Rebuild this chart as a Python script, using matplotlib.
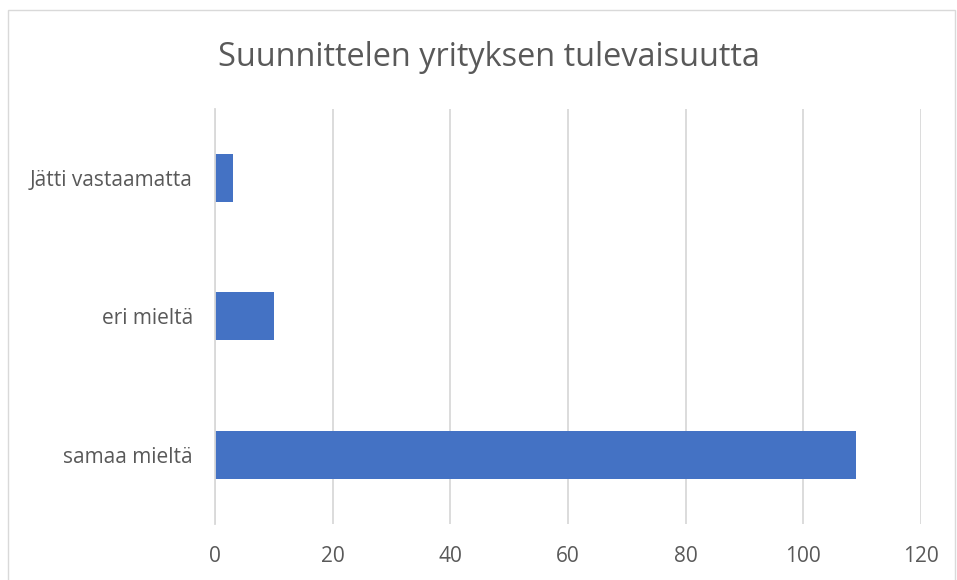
import matplotlib.pyplot as plt
from matplotlib.patches import Rectangle

# Data
categories = ['samaa mieltä', 'eri mieltä', 'Jätti vastaamatta']
values = [109, 10, 3]
ticks = [0, 20, 40, 60, 80, 100, 120]

plt.rcParams['font.family'] = ['Open Sans', 'DejaVu Sans']

fig = plt.figure(figsize=(9.57, 5.80), dpi=100)
ax = fig.add_axes([215 / 957, 1 - 524 / 580, (921 - 215) / 957, (524 - 108.5) / 580])

# рамка вокруг диаграммы
fig.patches.append(Rectangle((8 / 957, -0.1), 947 / 957, 1.1 - 10 / 580,
                             transform=fig.transFigure, fill=False,
                             edgecolor='#d9d9d9', linewidth=1))

ax.barh(range(len(categories)), values, height=0.35, color='#4472c4')
ax.set_xlim(0, 120)
ax.set_ylim(-0.5, len(categories) - 0.5)
ax.set_xticks(ticks)
ax.set_yticks(range(len(categories)))
ax.set_yticklabels(categories)
ax.grid(axis='x', color='#d9d9d9', linewidth=1.3)
ax.set_axisbelow(True)
for s in ['top', 'right', 'bottom']:
    ax.spines[s].set_visible(False)
ax.spines['left'].set_color('#d9d9d9')
ax.spines['left'].set_linewidth(1.3)
ax.tick_params(length=0, labelsize=15, colors='#595959')
ax.tick_params(axis='y', pad=16)
ax.tick_params(axis='x', pad=16)

fig.text(489 / 957, 1 - 58 / 580, 'Suunnittelen yrityksen tulevaisuutta', ha='center', va='center',
         fontsize=23.4, color='#595959')

fig.savefig('out.png')
